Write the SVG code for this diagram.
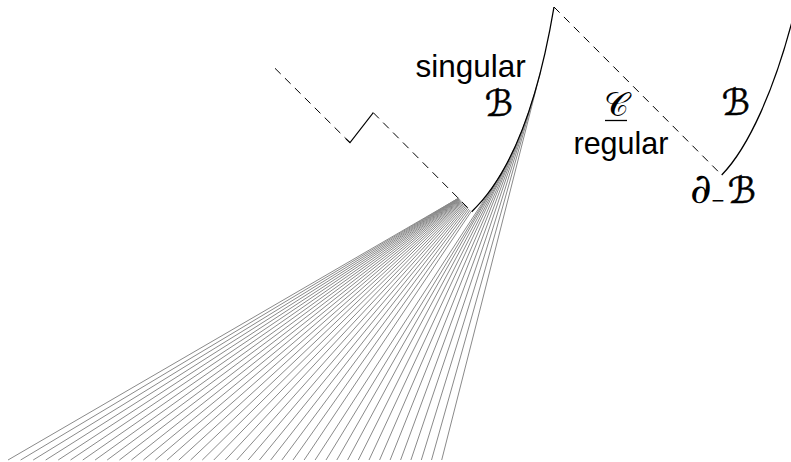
<svg xmlns="http://www.w3.org/2000/svg" width="791" height="462" viewBox="0 0 791 462">
<style>
.fan{stroke:#8a8a8a;stroke-width:1;fill:none}
.curve{stroke:#000;stroke-width:1.3;fill:none}
.dash{stroke:#000;stroke-width:1;fill:none;stroke-dasharray:8 6}
.solid{stroke:#000;stroke-width:1.1;fill:none}
.lbl{font-family:"Liberation Sans",Arial,sans-serif;fill:#000}
.scr{font-family:"DejaVu Sans","Noto Sans",sans-serif;font-style:italic;fill:#000;stroke:#000;stroke-width:0.6}
.cal{font-family:"DejaVu Sans","Noto Sans",sans-serif;fill:#000}
.math{font-family:"DejaVu Serif","Liberation Serif",serif;font-style:italic;fill:#000}
</style>
<rect width="791" height="462" fill="#fff"/>
<g id="fan">
<line class="fan" x1="458.3" y1="198.3" x2="8.0" y2="460"/>
<line class="fan" x1="458.3" y1="198.3" x2="20.6" y2="460"/>
<line class="fan" x1="458.4" y1="198.4" x2="33.2" y2="460"/>
<line class="fan" x1="458.5" y1="198.5" x2="45.7" y2="460"/>
<line class="fan" x1="458.6" y1="198.6" x2="58.2" y2="460"/>
<line class="fan" x1="458.7" y1="198.7" x2="70.5" y2="460"/>
<line class="fan" x1="458.9" y1="198.9" x2="82.8" y2="460"/>
<line class="fan" x1="459.1" y1="199.1" x2="95.1" y2="460"/>
<line class="fan" x1="459.3" y1="199.3" x2="107.2" y2="460"/>
<line class="fan" x1="459.6" y1="199.6" x2="119.4" y2="460"/>
<line class="fan" x1="459.9" y1="199.9" x2="131.4" y2="460"/>
<line class="fan" x1="460.3" y1="200.3" x2="143.4" y2="460"/>
<line class="fan" x1="460.7" y1="200.7" x2="155.3" y2="460"/>
<line class="fan" x1="461.2" y1="201.2" x2="167.1" y2="460"/>
<line class="fan" x1="461.7" y1="201.7" x2="178.9" y2="460"/>
<line class="fan" x1="462.2" y1="202.2" x2="190.6" y2="460"/>
<line class="fan" x1="462.8" y1="202.8" x2="202.3" y2="460"/>
<line class="fan" x1="463.5" y1="203.5" x2="213.8" y2="460"/>
<line class="fan" x1="464.2" y1="204.2" x2="225.3" y2="460"/>
<line class="fan" x1="465.0" y1="205.0" x2="236.8" y2="460"/>
<line class="fan" x1="465.9" y1="205.9" x2="248.2" y2="460"/>
<line class="fan" x1="466.8" y1="206.8" x2="259.5" y2="460"/>
<line class="fan" x1="467.8" y1="207.8" x2="270.7" y2="460"/>
<line class="fan" x1="468.9" y1="208.9" x2="281.9" y2="460"/>
<line class="fan" x1="470.1" y1="210.1" x2="293.0" y2="460"/>
<line class="fan" x1="471.3" y1="211.3" x2="304.1" y2="460"/>
<line class="fan" x1="497.8" y1="179.1" x2="315.1" y2="460"/>
<line class="fan" x1="500.6" y1="174.9" x2="326.0" y2="460"/>
<line class="fan" x1="503.7" y1="169.1" x2="336.8" y2="460"/>
<line class="fan" x1="506.9" y1="163.4" x2="347.6" y2="460"/>
<line class="fan" x1="510.0" y1="157.6" x2="358.3" y2="460"/>
<line class="fan" x1="513.5" y1="150.0" x2="369.0" y2="460"/>
<line class="fan" x1="517.0" y1="142.6" x2="379.6" y2="460"/>
<line class="fan" x1="520.6" y1="133.7" x2="390.1" y2="460"/>
<line class="fan" x1="524.4" y1="124.0" x2="400.6" y2="460"/>
<line class="fan" x1="528.3" y1="113.0" x2="410.9" y2="460"/>
<line class="fan" x1="532.4" y1="100.4" x2="421.3" y2="460"/>
<line class="fan" x1="536.6" y1="86.2" x2="431.5" y2="460"/>
<line class="fan" x1="540.8" y1="70.7" x2="441.7" y2="460"/>
</g>
<g id="boundary">
<path id="dash-left-1" class="dash" d="M275,68.3 L350,142.7"/>
<path id="kink" class="solid" d="M346,138.8 L350,142.7 L373.3,112.7"/>
<path id="dash-left-2" class="dash" d="M373.3,112.7 L471.7,211.7"/>
<path id="singular-B" class="curve" d="M471.7,211.7 C505,180 535,120 554,7"/>
<path id="dash-C" class="dash" d="M554,7 L721.7,175"/>
<path id="regular-B" class="curve" d="M721.7,175 C748,148 775,90 795,10"/>
</g>
<g id="labels">
<text class="lbl" x="415.5" y="77" font-size="31.5">singular</text>
<text class="scr" x="499" y="116" font-size="36" text-anchor="middle">ℬ</text>
<text class="cal" x="616" y="116" font-size="34" text-anchor="middle">𝒞</text>
<line x1="605" y1="120.5" x2="627" y2="120.5" stroke="#000" stroke-width="1.3"/>
<text class="lbl" x="573.5" y="154" font-size="30.5">regular</text>
<text class="scr" x="736" y="115" font-size="36" text-anchor="middle">ℬ</text>
<text class="math" x="690" y="203" font-size="42">∂</text>
<text class="lbl" x="711.5" y="208" font-size="22">−</text>
<text class="scr" x="742" y="203" font-size="36" text-anchor="middle">ℬ</text>
</g>
</svg>
